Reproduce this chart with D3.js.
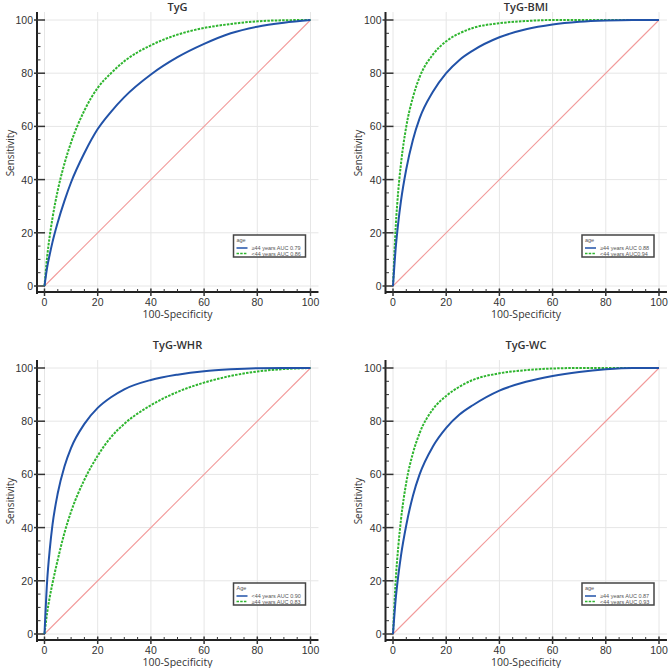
<!DOCTYPE html>
<html><head><meta charset="utf-8">
<script src="https://cdn.jsdelivr.net/npm/d3@7"></script>
<style>body{margin:0;background:#fff}svg{display:block}</style>
</head><body>
<svg id="c" width="669" height="668"></svg>
<script>
const fpr      = [0,1,2,3,5,7.5,10,15,20,25,30,40,50,60,70,80,90,100];
const tygOld   = [0,7,12,16.5,24,32,39,50,59,65.5,71,79.5,86,91,95,97.5,99,100];
const tygYoung = [0,11,19,25.5,36,46,54,66,74.5,80,84.5,90.5,94.5,97,98.5,99.5,99.9,100];
const bmiOld   = [0,14,24,32,44,55,63,73,80,85,88.5,93.5,96.5,98.3,99.3,99.8,100,100];
const bmiYoung = [0,22,36,46,60,71,78.5,87,92,95,97,98.8,99.6,100,100,100,100,100];
const whrYoung = [0,20,32,41,53,63,70,79,85,89,92,95.5,97.5,98.8,99.5,99.9,100,100];
const whrOld   = [0,8,14,19,28,38,46,58,67,74,79,86,91,94.5,97,98.7,99.6,100];
const wcOld    = [0,13,22,29.5,41,52,60,70.5,77.5,82.5,86,91.5,94.8,97,98.5,99.5,100,100];
const wcYoung  = [0,20,33,43,57,68,75.5,84.5,89.5,93,95.5,98,99.2,99.8,100,100,100,100];
const ticks = [0,20,40,60,80,100];
const titles = ["TyG","TyG-BMI","TyG-WHR","TyG-WC"];
const legendTitles = ["age","age","Age","age"];
const blueLabels  = ["\u226544 years AUC 0.79","\u226544 years AUC 0.88","<44 years AUC 0.90","\u226544 years AUC 0.87"];
const greenLabels = ["<44 years AUC 0.86","<44 years AUC0.94","\u226544 years AUC 0.83","<44 years AUC 0.93"];
const blueSeries  = [tygOld, bmiOld, whrYoung, wcOld];
const greenSeries = [tygYoung, bmiYoung, whrOld, wcYoung];

const BLUE = "#2152a8", GREEN = "#2fb52f";
const svg = d3.select("#c");
const panels = [
  {x0:44.5, y0:20, tY:7},
  {x0:393, y0:20, tY:7},
  {x0:44.5, y0:368, tY:345},
  {x0:393, y0:368, tY:345}
];
const S = 266;

panels.forEach((p, i) => {
  const x = d3.scaleLinear().domain([0,100]).range([p.x0, p.x0+S]);
  const y = d3.scaleLinear().domain([0,100]).range([p.y0+S, p.y0]);
  const g = svg.append("g");
  ticks.forEach(t => {
    g.append("line").attr("x1", x(t)).attr("x2", x(t)).attr("y1", y(103)).attr("y2", y(-1.5))
      .attr("stroke", "#e6e6e6").attr("stroke-width", 1);
    g.append("line").attr("x1", x(-1)).attr("x2", x(103)).attr("y1", y(t)).attr("y2", y(t))
      .attr("stroke", "#e6e6e6").attr("stroke-width", 1);
  });
  g.append("path").attr("d", `M${x(0)},${y(0)}L${x(100)},${y(100)}`)
    .attr("stroke", "#f29a9a").attr("stroke-width", 1.1).attr("fill", "none");
  const axY = p.y0 + S + 6;
  const axX = p.x0 - 7.5;
  g.append("line").attr("x1", x(-3)).attr("x2", x(103)).attr("y1", axY).attr("y2", axY)
    .attr("stroke", "#222").attr("stroke-width", 2);
  g.append("line").attr("x1", axX).attr("x2", axX).attr("y1", y(103)).attr("y2", y(-3))
    .attr("stroke", "#222").attr("stroke-width", 2);
  d3.range(0, 101, 5).forEach(t => {
    const major = t % 20 === 0;
    g.append("line").attr("x1", x(t)).attr("x2", x(t))
      .attr("y1", major ? axY + 4 : axY).attr("y2", axY - (major ? 3.5 : 3))
      .attr("stroke", "#333").attr("stroke-width", major ? 1.5 : 1);
    g.append("line").attr("y1", y(t)).attr("y2", y(t))
      .attr("x1", major ? axX - 3 : axX).attr("x2", axX + (major ? 8 : 3.5))
      .attr("stroke", "#333").attr("stroke-width", major ? 1.5 : 1);
  });
  ticks.forEach(t => {
    g.append("text").attr("x", x(t)).attr("y", axY + 14).attr("text-anchor", "middle")
      .attr("font-family", "Liberation Sans, Arial, sans-serif").attr("font-size", 10.5).attr("fill", "#333").text(t);
    g.append("text").attr("x", axX - 4).attr("y", y(t) + 4).attr("text-anchor", "end")
      .attr("font-family", "Liberation Sans, Arial, sans-serif").attr("font-size", 10.5).attr("fill", "#333").text(t);
  });
  g.append("text").attr("x", x(50)).attr("y", axY + 25.5).attr("text-anchor", "middle")
    .attr("font-family", "Open Sans, sans-serif").attr("font-size", 10.5).attr("fill", "#333").text("100-Specificity");
  g.append("text").attr("transform", `translate(${p.x0 - 31},${y(50)}) rotate(-90)`).attr("text-anchor", "middle")
    .attr("font-family", "Open Sans, sans-serif").attr("font-size", 10).attr("fill", "#333").text("Sensitivity");
  g.append("text").attr("x", x(50)).attr("y", p.tY + 4).attr("text-anchor", "middle")
    .attr("font-family", "Open Sans, sans-serif").attr("font-size", 11).attr("font-weight", 600).attr("fill", "#333").text(titles[i]);
  const line = d3.line().x((d, j) => x(fpr[j])).y(d => y(d)).curve(d3.curveMonotoneX);
  g.append("path").datum(greenSeries[i]).attr("d", line).attr("fill", "none")
    .attr("stroke", GREEN).attr("stroke-width", 2).attr("stroke-dasharray", "2.5,1.2");
  g.append("path").datum(blueSeries[i]).attr("d", line).attr("fill", "none")
    .attr("stroke", BLUE).attr("stroke-width", 2);
  const lw = 72, lh = 22;
  const lx = x(100) - 5 - lw, ly = y(0) - 51;
  const lg = g.append("g").attr("transform", `translate(${lx},${ly})`);
  lg.append("rect").attr("width", lw).attr("height", lh).attr("fill", "#fff").attr("stroke", "#444").attr("stroke-width", 1.5);
  lg.append("text").attr("x", 3).attr("y", 7).attr("font-family", "Liberation Sans, Arial, sans-serif")
    .attr("font-size", 5.5).attr("fill", "#555").text(legendTitles[i]);
  [[BLUE, null, blueLabels[i]], [GREEN, "2.5,1.2", greenLabels[i]]].forEach((e, k) => {
    const yy = 13 + k * 5.5;
    lg.append("line").attr("x1", 3).attr("x2", 14).attr("y1", yy).attr("y2", yy).attr("stroke", e[0])
      .attr("stroke-width", 1.5).attr("stroke-dasharray", e[1]);
    lg.append("text").attr("x", 18).attr("y", yy + 2).attr("font-family", "Liberation Sans, Arial, sans-serif")
      .attr("font-size", 5.5).attr("fill", "#555").text(e[2]);
  });
});
</script>
</body></html>
